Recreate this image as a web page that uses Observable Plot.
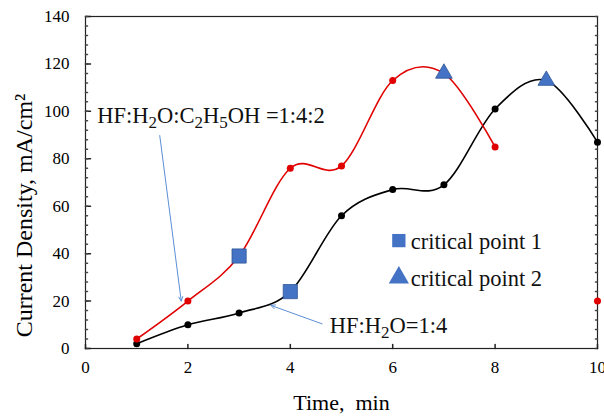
<!DOCTYPE html>
<html><head><meta charset="utf-8">
<script src="https://cdn.jsdelivr.net/npm/d3@7"></script>
<script src="https://cdn.jsdelivr.net/npm/@observablehq/plot@0.6"></script>
<style>body{margin:0;background:#fff} svg text{font-family:"Liberation Serif",serif}</style>
</head><body><div id="chart"></div>
<script>
// ---- data ----
const blackTime = [1, 2, 3, 4, 5, 6, 7, 8, 9, 10];
const blackValues = [2, 10, 15, 24, 56, 67, 69, 101, 113, 87];
const redTime = [1, 2, 3, 4, 5, 6, 7, 8];
const redValues = [4, 20, 39, 76, 77, 113, 116, 85];
const strayTime = [10];
const strayValues = [20];
const crit1Time = [3, 4];
const crit1Values = [39, 24];
const crit2Time = [7, 9];
const crit2Values = [116, 113];
const xTicks = [0, 2, 4, 6, 8, 10];
const yTicks = [0, 20, 40, 60, 80, 100, 120, 140];
const yMinorTicks = d3.range(0, 141, 4);
const xLabel = "Time,  min";
const yLabel = "Current Density, mA/cm\u00B2";
const legendLabels = ["critical point 1", "critical point 2"];
const legendSymbols = ["square", "triangle"];
const annotationLabels = ["HF:H_2O:C_2H_5OH =1:4:2", "HF:H_2O=1:4"];

// ---- tables built from arrays ----
const black = blackTime.map((t, i) => ({t, v: blackValues[i]}));
const red = redTime.map((t, i) => ({t, v: redValues[i]}));
const stray = strayTime.map((t, i) => ({t, v: strayValues[i]}));
const crit1 = crit1Time.map((t, i) => ({t, v: crit1Values[i]}));
const crit2 = crit2Time.map((t, i) => ({t, v: crit2Values[i]}));
// annotation placement (data units)
const annotations = [
  {label: annotationLabels[0], x: 0.23, y: 95.3, x1: 1.45, y1: 89.8, x2: 1.87, y2: 20.0},
  {label: annotationLabels[1], x: 4.77, y: 6.7, x1: 4.62, y1: 10.4, x2: 3.62, y2: 18.2}
];
const legend = legendLabels.map((label, i) => ({label, symbol: legendSymbols[i], x: 6.12, y: 45.5 - i * 15.6}));

const font = "Liberation Serif";
const blue = "#4472c4";
const tickShape = {draw(ctx, l) { ctx.moveTo(0, 0); ctx.lineTo(0, -l); }};

const plot = Plot.plot({
  width: 604, height: 419,
  marginLeft: 85, marginRight: 7, marginTop: 16, marginBottom: 71,
  style: {background: "#fff", fontFamily: font, color: "#000"},
  x: {domain: [0, 10]},
  y: {domain: [0, 140]},
  marks: [
    Plot.frame({stroke: "#222", strokeWidth: 1.2}),
    // tick labels
    Plot.axisY({ticks: yTicks, tickSize: 0, tickPadding: 16, fontSize: 17, fontFamily: font, label: null}),
    Plot.axisX({ticks: xTicks, tickSize: 0, tickPadding: 12, fontSize: 17, fontFamily: font, label: null}),
    // inward ticks
    Plot.vector(yTicks, {y: d => d, frameAnchor: "left", length: 5, rotate: 90, anchor: "start", shape: tickShape, stroke: "#222"}),
    Plot.vector(yMinorTicks, {y: d => d, frameAnchor: "left", length: 2, rotate: 90, anchor: "start", shape: tickShape, stroke: "#444"}),
    Plot.vector(yMinorTicks, {y: d => d, frameAnchor: "right", length: 2, rotate: -90, anchor: "start", shape: tickShape, stroke: "#444"}),
    Plot.vector(xTicks, {x: d => d, frameAnchor: "bottom", length: 4, rotate: 0, anchor: "start", shape: tickShape, stroke: "#222"}),
    // axis titles
    Plot.text([yLabel], {text: d => d, frameAnchor: "left", textAnchor: "middle", dx: -54, dy: 33, rotate: -90, lineAnchor: "bottom", fontSize: 24, fontFamily: font, fill: "#000"}),
    Plot.text([xLabel], {text: d => d, frameAnchor: "bottom", textAnchor: "middle", dy: 61, lineAnchor: "bottom", fontSize: 22, fontFamily: font, fill: "#000"}),
    // series
    Plot.line(black, {x: "t", y: "v", stroke: "#000", strokeWidth: 1.6, curve: "cardinal", tension: 0}),
    Plot.dot(black, {x: "t", y: "v", r: 3.5, fill: "#000"}),
    Plot.line(red, {x: "t", y: "v", stroke: "#e00000", strokeWidth: 1.6, curve: "cardinal", tension: 0}),
    Plot.dot(red, {x: "t", y: "v", r: 3.5, fill: "#e00000"}),
    Plot.dot(stray, {x: "t", y: "v", r: 3.5, fill: "#e00000"}),
    // critical points
    Plot.dot(crit1, {x: "t", y: "v", symbol: "square", r: 8, fill: blue, stroke: "#2f5597", strokeWidth: 0.8}),
    Plot.dot(crit2, {x: "t", y: "v", symbol: "triangle", r: 6.2, fill: blue, stroke: "#2f5597", strokeWidth: 0.8}),
    // annotations
    Plot.arrow(annotations, {x1: "x1", y1: "y1", x2: "x2", y2: "y2", stroke: "#5b8fd6", strokeWidth: 1, headLength: 7, headAngle: 50}),
    Plot.text(annotations, {x: "x", y: "y", text: "label", textAnchor: "start", lineAnchor: "bottom", fontSize: 22.5, fontFamily: font, fill: "#111"}),
    // legend
    Plot.dot(legend, {x: "x", y: "y", symbol: "symbol", r: 7.5, fill: blue}),
    Plot.text(legend, {x: "x", y: "y", text: "label", textAnchor: "start", dx: 12, dy: 1, fontSize: 22.5, fontFamily: font, fill: "#111"})
  ]
});

// render subscripts (marked with _digit) as real tspans
plot.querySelectorAll("text").forEach(t => {
  const s = t.textContent;
  if (!s.includes("_")) return;
  t.textContent = "";
  const parts = s.split(/_(\d)/);
  parts.forEach((p, i) => {
    if (!p) return;
    const ts = document.createElementNS("http://www.w3.org/2000/svg", "tspan");
    ts.textContent = p;
    if (i % 2 === 1) { ts.setAttribute("font-size", "17"); ts.setAttribute("dy", "5"); }
    else if (i > 0) ts.setAttribute("dy", "-5");
    t.appendChild(ts);
  });
});
document.getElementById("chart").appendChild(plot);
</script>
</body></html>
